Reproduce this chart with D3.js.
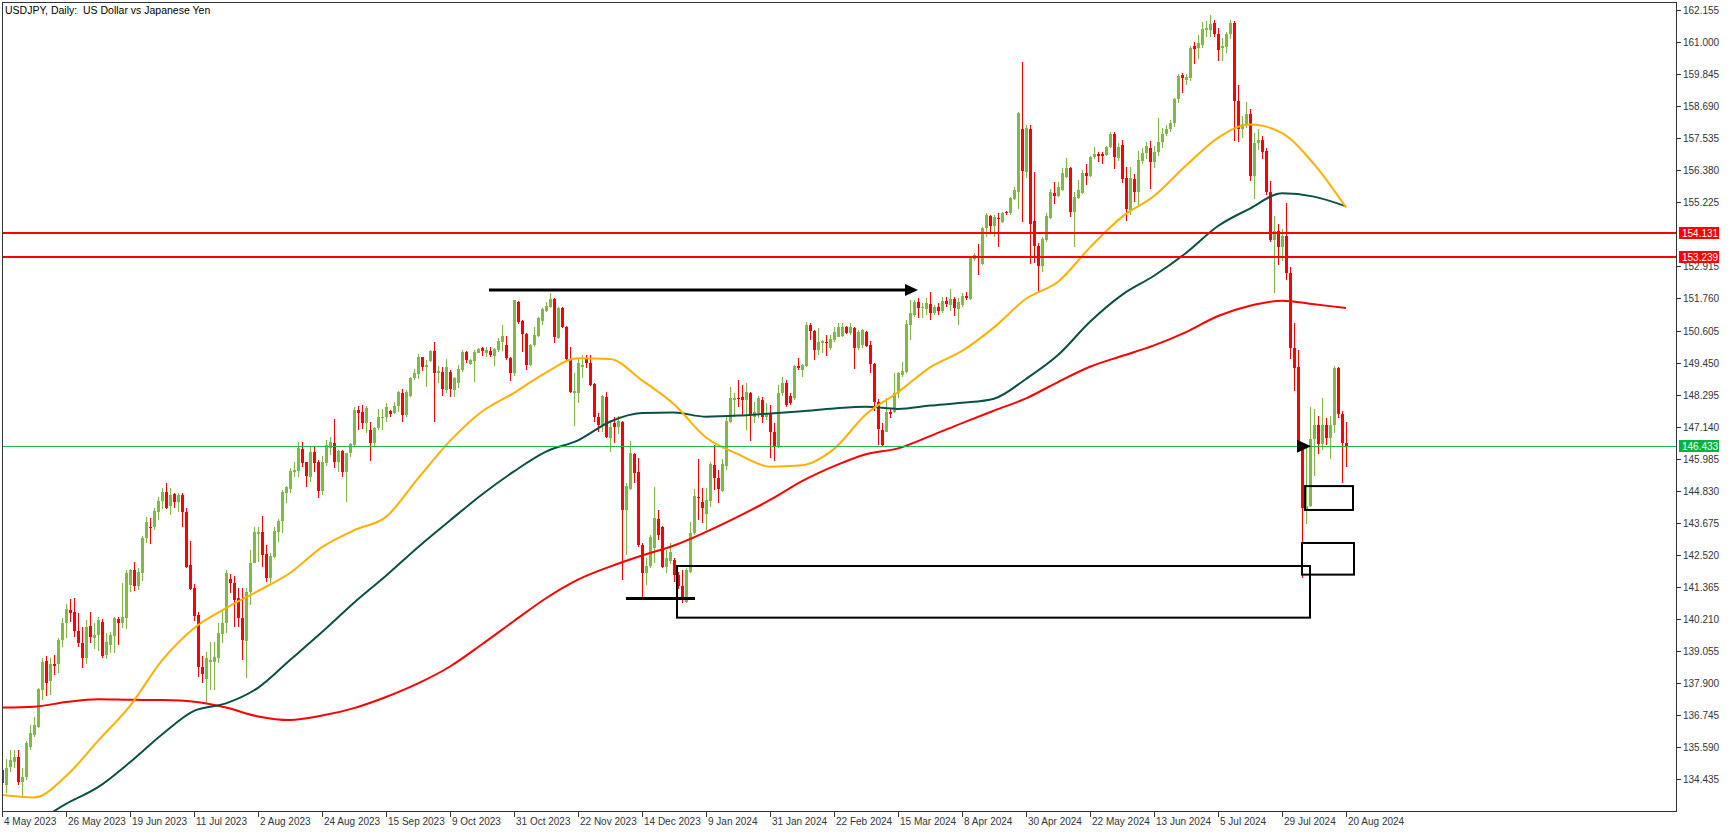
<!DOCTYPE html>
<html><head><meta charset="utf-8">
<script src="https://cdn.jsdelivr.net/npm/d3@7"></script>
<style>
html,body{margin:0;padding:0;background:#fff;}
svg{display:block;}
text{font-family:"Liberation Sans",Arial,sans-serif;}
</style></head><body>
<svg id="chart" width="1729" height="832"></svg>
<script>
const title = "USDJPY, Daily:  US Dollar vs Japanese Yen";
const dateLabels = ["4 May 2023","26 May 2023","19 Jun 2023","11 Jul 2023","2 Aug 2023","24 Aug 2023","15 Sep 2023","9 Oct 2023","31 Oct 2023","22 Nov 2023","14 Dec 2023","9 Jan 2024","31 Jan 2024","22 Feb 2024","15 Mar 2024","8 Apr 2024","30 Apr 2024","22 May 2024","13 Jun 2024","5 Jul 2024","29 Jul 2024","20 Aug 2024"];
const dateLabelBars = [0,16,32,48,64,80,96,112,128,144,160,176,192,208,224,240,256,272,288,304,320,336];
const priceTicks = [162.155,161.000,159.845,158.690,157.535,156.380,155.225,152.915,151.760,150.605,149.450,148.295,147.140,145.985,144.830,143.675,142.520,141.365,140.210,139.055,137.900,136.745,135.590,134.435];
const resistanceLevels = [154.131, 153.239];
const currentPrice = 146.433;

// daily bars: [open, high, low, close]
const ohlc = [
[134.77,134.85,134.20,134.30],[134.23,135.15,133.93,134.83],[134.89,135.49,134.71,135.13],[135.07,135.49,134.83,135.25],[135.25,135.49,134.23,134.35],
[134.35,134.83,133.81,134.53],[134.53,135.80,134.41,135.73],[135.61,136.39,135.50,136.09],[136.03,136.69,135.97,136.39],[136.33,137.72,136.27,137.68],
[137.65,138.79,137.30,138.67],[138.70,138.88,137.44,137.92],[137.96,138.79,137.47,138.59],[138.58,138.91,138.19,138.52],[138.58,139.51,138.25,139.45],
[139.45,140.23,139.21,140.05],[140.05,140.75,139.51,140.56],[140.53,140.92,140.12,140.44],[140.45,140.95,139.57,139.79],[139.78,140.41,139.21,139.33],
[139.33,139.93,138.43,138.79],[138.79,140.17,138.59,139.93],[139.97,140.45,139.33,139.55],[139.54,140.05,139.12,139.63],[139.63,140.27,139.07,140.17],
[140.09,140.21,138.79,138.88],[138.90,139.70,138.76,139.38],[139.27,139.75,138.99,139.63],[139.60,140.29,138.99,140.23],[140.21,140.29,139.27,140.08],
[140.08,141.50,139.90,140.27],[140.26,141.98,139.84,141.88],[141.44,142.02,141.20,141.98],[141.98,142.27,141.23,141.41],[141.41,142.04,141.26,141.92],
[141.86,143.20,141.59,143.13],[143.12,143.90,142.94,143.69],[143.54,143.84,142.92,143.50],[143.54,144.20,143.42,144.10],[144.08,144.62,143.78,144.47],
[144.47,144.93,144.16,144.80],[144.77,145.10,144.16,144.21],[144.28,144.92,143.96,144.69],[144.70,144.74,144.20,144.44],[144.44,144.74,144.08,144.68],
[144.68,144.74,143.54,144.05],[144.05,144.22,142.04,142.07],[142.16,143.02,141.26,141.29],[141.33,141.47,140.15,140.33],[140.36,140.45,138.13,138.49],
[138.49,138.88,137.89,138.23],[138.04,139.03,137.23,138.79],[138.67,139.40,137.65,138.73],[138.67,139.39,137.65,138.83],[138.79,140.05,138.61,139.69],
[139.67,140.53,139.33,140.05],[140.05,141.98,139.69,141.86],[141.65,141.83,141.14,141.50],[141.50,141.76,139.93,140.90],[140.96,141.32,139.93,140.23],
[140.23,141.32,138.73,139.45],[139.43,141.32,138.07,141.17],[141.17,142.70,140.71,142.24],[142.24,143.54,142.22,143.33],[143.27,143.54,142.28,143.33],
[143.33,143.92,142.07,142.52],[142.54,142.88,141.56,141.70],[141.68,142.60,141.52,142.48],[142.46,143.51,142.40,143.39],[143.36,143.80,142.99,143.75],
[143.75,144.86,143.30,144.80],[144.74,145.00,144.40,144.98],[144.89,145.64,144.74,145.56],[145.52,145.88,145.31,145.58],[145.56,146.58,145.31,146.36],
[146.32,146.58,145.68,145.84],[145.86,145.88,144.96,145.38],[145.32,146.46,145.16,146.24],[146.24,146.46,145.50,145.84],[145.88,145.94,144.56,144.83],
[144.83,146.08,144.68,145.88],[145.84,146.66,145.72,146.48],[146.36,146.76,146.12,146.58],[146.54,147.42,145.66,145.88],[145.88,146.30,145.52,146.28],
[146.26,146.30,145.34,145.52],[145.52,146.20,144.44,146.20],[146.18,146.54,146.06,146.51],[146.48,147.86,146.42,147.74],[147.74,147.89,147.02,147.64],
[147.66,147.92,147.06,147.28],[147.28,147.89,146.93,147.83],[147.02,147.30,145.90,146.56],[146.54,147.14,146.46,147.08],[147.08,147.76,147.02,147.50],
[147.46,147.76,147.02,147.50],[147.48,148.01,147.30,147.84],[147.71,147.74,147.50,147.60],[147.62,148.02,147.60,147.89],[147.89,148.43,147.68,148.38],
[148.34,148.50,147.32,147.56],[147.56,148.46,147.50,148.40],[148.25,148.94,148.22,148.91],[148.88,149.22,148.82,149.09],[149.04,149.76,148.85,149.64],
[149.64,149.66,149.16,149.30],[149.28,149.54,148.56,149.36],[149.52,149.90,149.48,149.88],[149.87,150.18,147.30,149.06],[149.06,149.33,148.70,149.16],
[149.12,149.30,148.26,148.50],[148.46,149.58,148.37,149.28],[149.12,149.18,148.20,148.49],[148.46,148.94,148.22,148.88],[148.70,149.36,148.52,149.22],
[149.18,149.90,149.12,149.83],[149.82,149.87,149.42,149.54],[149.40,149.57,149.36,149.54],[149.51,149.90,148.76,149.84],[149.81,149.99,149.78,149.95],
[149.96,150.00,149.69,149.87],[149.81,150.02,149.66,149.90],[149.88,150.00,149.66,149.71],[149.69,149.96,149.34,149.95],[149.90,150.32,149.84,150.24],
[150.20,150.80,149.87,150.41],[150.08,150.41,149.54,149.60],[149.60,149.66,148.79,149.06],[149.06,151.72,148.95,151.70],[151.64,151.68,150.85,150.92],
[150.95,150.98,149.84,150.47],[150.48,150.50,149.20,149.36],[149.36,150.11,149.33,150.08],[150.08,150.74,150.02,150.44],[150.41,151.10,150.36,151.04],
[150.96,151.40,150.80,151.37],[151.31,151.64,151.28,151.49],[151.44,151.95,151.40,151.73],[151.73,151.77,150.17,150.38],[150.32,151.44,150.29,151.41],
[151.41,151.44,150.68,150.74],[150.74,150.77,149.54,149.57],[149.57,150.00,148.34,148.40],[148.37,149.06,147.18,148.43],[148.37,149.60,147.98,149.45],
[149.28,149.72,148.88,149.36],[149.60,149.72,149.24,149.42],[149.42,149.72,148.60,148.64],[148.68,148.70,147.32,147.48],[147.50,147.62,146.96,147.20],
[147.20,148.28,146.96,148.26],[148.22,148.40,146.72,146.76],[146.72,147.38,146.24,147.14],[147.26,147.50,146.56,147.12],[147.14,147.52,146.88,147.36],
[147.32,147.36,141.60,144.14],[144.14,145.10,142.50,145.00],[144.88,146.62,144.86,146.18],[146.16,146.18,145.10,145.48],[145.52,146.00,142.82,142.88],
[142.88,142.94,141.00,141.88],[141.86,142.40,141.44,142.12],[142.12,143.24,142.04,143.18],[142.78,144.95,142.22,143.84],[143.80,144.14,143.06,143.24],
[143.54,143.56,142.04,142.10],[142.10,142.70,141.86,142.40],[142.30,142.94,142.20,142.64],[142.33,142.40,141.56,141.79],[141.79,141.90,141.30,141.40],
[141.40,141.97,140.80,140.95],[140.83,142.04,140.80,141.97],[141.92,143.72,141.86,143.30],[143.30,144.88,143.24,144.64],[144.62,145.99,143.78,144.56],
[144.44,144.92,143.66,144.20],[144.00,144.92,143.42,144.50],[144.47,145.88,144.26,145.80],[145.76,146.48,144.86,145.28],[145.28,145.58,144.38,144.88],
[144.83,145.96,144.80,145.80],[145.74,147.50,145.58,147.35],[147.32,148.58,147.26,148.16],[148.10,148.34,147.50,148.16],[148.18,148.82,147.86,148.13],
[148.22,148.64,147.56,148.10],[148.10,148.70,147.02,148.38],[148.37,148.40,146.64,147.56],[147.50,148.04,147.26,147.66],[147.64,148.24,147.44,148.16],
[148.10,148.22,147.26,147.50],[147.50,147.98,147.38,147.64],[147.62,147.92,146.00,146.96],[146.96,147.28,145.90,146.42],[146.42,148.64,146.36,148.37],
[148.34,148.94,148.25,148.70],[148.70,148.82,147.86,147.92],[148.25,148.34,147.92,148.00],[148.16,149.36,148.10,149.33],[149.33,149.60,149.18,149.24],
[149.18,149.39,148.94,149.36],[149.33,150.92,149.28,150.80],[150.80,150.88,150.26,150.60],[150.60,150.62,149.54,149.90],[149.90,150.68,149.72,150.20],
[150.17,150.26,149.78,150.23],[150.20,150.44,149.69,150.14],[149.96,150.44,149.90,150.29],[150.26,150.74,150.20,150.56],[150.38,150.86,150.36,150.72],
[150.40,150.88,150.36,150.72],[150.72,150.77,150.48,150.53],[150.53,150.89,150.44,150.72],[150.68,150.72,149.21,149.96],[149.96,150.62,149.90,150.56],
[150.08,150.66,149.96,150.62],[150.54,150.60,150.00,150.05],[150.08,150.23,149.09,149.40],[149.40,149.42,147.70,148.04],[148.04,148.13,146.48,147.04],
[147.02,147.26,146.46,146.48],[146.96,148.16,146.94,147.68],[147.68,147.80,147.44,147.60],[147.68,149.06,147.62,148.37],[148.34,149.12,148.16,149.06],
[149.00,149.48,148.94,149.16],[149.12,150.98,149.06,150.84],[150.80,151.70,150.26,151.23],[151.17,151.70,151.10,151.65],[151.65,151.77,151.04,151.41],
[151.41,151.59,151.04,151.47],[151.37,151.77,151.16,151.59],[151.56,151.98,151.00,151.25],[151.25,151.53,151.16,151.44],[151.44,151.59,151.16,151.32],
[151.32,151.83,151.24,151.68],[151.68,151.80,151.47,151.56],[151.52,152.09,151.32,151.73],[151.73,151.83,151.13,151.41],[151.37,151.77,150.80,151.65],
[151.52,151.95,151.46,151.85],[151.85,152.00,151.71,151.76],[151.73,153.27,151.71,153.21],[153.17,153.39,153.12,153.33],[153.29,153.72,152.60,153.24],
[153.00,154.35,152.97,154.29],[154.29,154.85,153.99,154.77],[154.73,154.77,154.17,154.37],[154.37,154.77,153.99,154.68],[154.65,154.83,153.60,154.61],
[154.53,154.89,154.49,154.85],[154.89,154.92,154.77,154.85],[154.83,155.43,154.77,155.37],[155.33,155.79,155.31,155.67],[155.61,158.49,154.97,158.43],
[157.85,160.29,154.53,156.36],[156.33,158.01,156.09,157.89],[157.85,158.01,153.00,154.44],[154.56,156.33,153.05,153.65],[153.65,153.75,152.00,152.93],
[152.93,153.99,152.73,153.89],[153.87,154.83,153.81,154.73],[154.65,155.69,154.61,155.61],[155.57,155.97,155.16,155.45],[155.45,155.97,155.43,155.79],
[155.67,156.45,155.64,156.27],[156.15,156.81,156.09,156.45],[156.45,156.49,154.71,154.89],[154.89,155.61,153.63,155.43],[155.37,156.02,155.33,155.67],
[155.55,156.39,155.52,156.29],[156.29,156.60,155.85,156.17],[156.17,156.89,156.15,156.87],[156.85,157.23,156.77,156.97],[156.97,157.05,156.69,156.89],
[156.97,157.05,156.61,156.89],[156.93,157.25,156.89,157.23],[157.21,157.77,157.17,157.69],[157.69,157.77,156.41,156.85],[156.81,157.37,156.70,157.21],
[157.30,157.47,155.92,156.05],[156.11,156.50,154.56,155.00],[154.95,156.50,154.78,156.11],[156.05,156.25,155.25,155.60],[155.60,157.08,155.14,156.76],
[156.70,157.20,156.60,157.02],[157.00,157.40,156.80,157.25],[157.20,157.45,155.72,156.69],[156.69,157.25,156.45,157.05],[157.05,158.25,156.90,157.40],
[157.40,157.90,157.20,157.70],[157.70,158.00,157.60,157.85],[157.85,158.20,157.75,158.10],[158.10,159.00,157.95,158.95],[158.95,159.85,158.80,159.77],
[159.80,159.90,159.15,159.70],[159.65,159.85,159.45,159.75],[159.70,160.85,159.60,160.80],[160.85,161.00,160.20,160.75],[160.80,161.25,160.40,160.95],
[160.90,161.72,160.80,161.48],[161.45,161.75,161.20,161.50],[161.45,161.96,161.20,161.65],[161.70,161.80,161.20,161.30],[161.30,161.50,160.30,160.70],
[160.77,161.15,160.30,160.86],[160.83,161.35,160.60,161.29],[161.29,161.80,161.10,161.70],[161.70,161.76,157.45,158.89],[158.89,159.47,157.40,157.86],
[157.86,158.35,157.55,158.05],[158.05,158.85,157.90,158.40],[158.40,158.60,156.00,156.18],[156.18,157.73,155.34,157.37],[157.37,157.85,157.10,157.47],
[157.47,157.60,156.80,157.05],[157.06,157.20,155.50,155.60],[155.60,156.00,153.80,153.87],[153.87,154.75,151.95,154.20],[154.20,154.45,152.95,153.60],
[153.60,154.25,153.10,154.00],[154.00,155.20,152.43,152.69],[152.69,152.88,149.58,149.97],[149.97,150.87,148.42,149.26],[149.30,149.90,146.35,146.45],
[146.45,146.55,141.68,144.20],[144.18,146.38,143.63,144.30],[144.30,147.85,144.25,146.70],[146.70,147.77,145.38,147.19],[147.19,147.51,146.15,146.50],
[146.50,148.16,146.30,147.19],[147.19,147.45,146.48,146.74],[146.74,147.51,145.96,147.19],[147.19,149.32,146.90,149.26],[149.26,149.30,147.45,147.60],
[147.60,147.70,145.12,146.54],[146.54,147.32,145.70,146.43]
];

// moving averages, read every 8 bars
const maBars = [0,8,16,24,32,40,48,56,64,72,80,88,96,104,112,120,128,136,144,152,160,168,176,184,192,200,208,216,224,232,240,248,256,264,272,280,288,296,304,312,320,328,336];
const ma50 = [133.87,133.78,134.55,135.82,137.08,138.72,139.88,140.60,141.22,141.87,142.80,143.41,143.89,145.28,146.63,147.69,148.36,149.09,149.61,149.58,148.81,147.95,146.75,146.15,145.70,145.75,146.34,147.59,148.38,149.28,149.87,150.72,151.75,152.36,153.60,154.70,155.45,156.55,157.55,158.03,157.72,156.60,155.04];
const ma100 = [132.40,132.85,133.55,134.15,135.05,136.05,136.90,137.17,137.73,138.73,139.74,140.80,141.77,142.80,143.76,144.70,145.53,146.24,146.65,147.32,147.63,147.65,147.50,147.54,147.62,147.70,147.80,147.86,147.78,147.90,148.00,148.15,148.86,149.72,150.92,151.89,152.58,153.40,154.37,155.00,155.55,155.43,155.08];
const ma200 = [137.02,137.05,137.22,137.32,137.30,137.29,137.23,137.02,136.70,136.57,136.73,137.00,137.40,137.89,138.50,139.30,140.14,140.96,141.63,142.10,142.50,142.86,143.35,143.90,144.50,145.18,145.72,146.15,146.36,146.80,147.27,147.72,148.16,148.75,149.30,149.69,150.07,150.55,151.13,151.50,151.68,151.55,151.42];

// drawn objects, in bar index / price units
const arrowLine = {from:[121.75,152.066], to:[225.75,152.066], tip:[229.0,152.066]};
const arrowMark = {base:323.75, tip:327.25, price:146.433};
const supportLine = {from:156, to:173.25, price:140.95};
const boxes = [
  {i0:168.75, i1:327.0, p0:142.12, p1:140.26},
  {i0:325.75, i1:337.75, p0:145.00, p1:144.14},
  {i0:325.0,  i1:338.0,  p0:142.95, p1:141.81}
];

const W = 1729, H = 832;
const plot = {left:2, top:2, right:1676, bottom:811};
const x = d3.scaleLinear().domain([0, 336]).range([2, 1346]);
const y = d3.scaleLinear().domain([134.435, 162.155]).range([779.3, 10]);
const GREEN = "#7cbd3f", RED = "#ff0000";

const svg = d3.select("#chart");
svg.append("rect").attr("width",W).attr("height",H).attr("fill","#fff");

svg.append("defs").append("clipPath").attr("id","plotclip")
  .append("rect").attr("x",plot.left).attr("y",plot.top)
  .attr("width",plot.right-plot.left).attr("height",plot.bottom-plot.top);

const g = svg.append("g").attr("clip-path","url(#plotclip)");

// candles
const cg = g.append("g").attr("shape-rendering","crispEdges");
ohlc.forEach((d,i)=>{
  const [o,h,l,c] = d;
  const col = c >= o ? GREEN : RED;
  const cx = Math.round(x(i));
  const yh = Math.round(y(Math.max(h,o,c))), yl = Math.round(y(Math.min(l,o,c)));
  cg.append("rect").attr("x",cx).attr("y",yh).attr("width",1).attr("height",Math.max(1,yl-yh)).attr("fill",col);
  const yt = Math.round(y(Math.max(o,c))), yb = Math.round(y(Math.min(o,c)));
  cg.append("rect").attr("x",cx-1).attr("y",yt).attr("width",3).attr("height",Math.max(1,yb-yt)).attr("fill",col);
});

// moving averages
const maLine = d3.line().x(d=>x(d[0])).y(d=>y(d[1])).curve(d3.curveMonotoneX);
[[ma200,"#ff0000"],[ma100,"#0b5046"],[ma50,"#ffb000"]].forEach(([vals,col])=>{
  g.append("path").datum(maBars.map((b,k)=>[b,vals[k]]))
    .attr("d",maLine).attr("fill","none").attr("stroke",col).attr("stroke-width",2);
});

// horizontal levels
resistanceLevels.forEach(v=>{
  g.append("line").attr("x1",plot.left).attr("x2",plot.right)
    .attr("y1",Math.round(y(v))).attr("y2",Math.round(y(v)))
    .attr("stroke",RED).attr("stroke-width",2);
});
g.append("line").attr("x1",plot.left).attr("x2",plot.right)
  .attr("y1",Math.round(y(currentPrice))+0.5).attr("y2",Math.round(y(currentPrice))+0.5)
  .attr("stroke","#22b84a").attr("stroke-width",1);

// drawn objects
g.append("line").attr("x1",x(arrowLine.from[0])).attr("x2",x(arrowLine.to[0]))
  .attr("y1",y(arrowLine.from[1])).attr("y2",y(arrowLine.to[1]))
  .attr("stroke","#000").attr("stroke-width",3);
{
  const bx = x(arrowLine.to[0]), tx = x(arrowLine.tip[0]), ay = y(arrowLine.tip[1]);
  g.append("path").attr("d",`M${bx},${ay-6}L${tx},${ay}L${bx},${ay+6}Z`).attr("fill","#000");
}
{
  const bx = x(arrowMark.base), tx = x(arrowMark.tip), ay = y(arrowMark.price);
  g.append("path").attr("d",`M${bx},${ay-6.5}L${tx},${ay}L${bx},${ay+6.5}Z`).attr("fill","#000");
}
g.append("line").attr("x1",x(supportLine.from)).attr("x2",x(supportLine.to))
  .attr("y1",y(supportLine.price)).attr("y2",y(supportLine.price))
  .attr("stroke","#000").attr("stroke-width",3);
boxes.forEach(b=>{
  g.append("rect").attr("x",x(b.i0)).attr("y",y(b.p0))
    .attr("width",x(b.i1)-x(b.i0)).attr("height",y(b.p1)-y(b.p0))
    .attr("fill","none").attr("stroke","#000").attr("stroke-width",2);
});

// frame
svg.append("rect").attr("x",plot.left+0.5).attr("y",plot.top+0.5)
  .attr("width",plot.right-plot.left).attr("height",plot.bottom-plot.top)
  .attr("fill","none").attr("stroke","#30343a").attr("stroke-width",1);

// title
svg.append("text").attr("x",5).attr("y",13.5).attr("font-size",10.5)
  .style("white-space","pre").attr("fill","#000").text(title);

// right axis
const ax = svg.append("g");
priceTicks.forEach(v=>{
  const yy = Math.round(y(v));
  ax.append("line").attr("x1",plot.right).attr("x2",plot.right+5).attr("y1",yy+0.5).attr("y2",yy+0.5)
    .attr("stroke","#30343a").attr("stroke-width",1);
  ax.append("text").attr("x",plot.right+7).attr("y",yy+3.7).attr("font-size",10)
    .attr("fill","#30343a").text(d3.format(".3f")(v));
});
function priceTag(v, bg){
  const yy = Math.round(y(v));
  ax.append("rect").attr("x",plot.right+3).attr("y",yy-6).attr("width",40).attr("height",12).attr("fill",bg);
  ax.append("text").attr("x",plot.right+6).attr("y",yy+3.7).attr("font-size",10)
    .attr("fill","#fff").text(d3.format(".3f")(v));
}
resistanceLevels.forEach(v=>priceTag(v, RED));
priceTag(currentPrice, "#0ab33f");

// bottom axis
const bx = svg.append("g");
dateLabelBars.forEach((b,k)=>{
  const xx = Math.round(x(b));
  bx.append("line").attr("x1",xx+0.5).attr("x2",xx+0.5).attr("y1",plot.bottom).attr("y2",plot.bottom+6)
    .attr("stroke","#30343a").attr("stroke-width",1);
  bx.append("text").attr("x",xx+2).attr("y",825).attr("font-size",10)
    .attr("fill","#30343a").text(dateLabels[k]);
});
</script>
</body></html>
